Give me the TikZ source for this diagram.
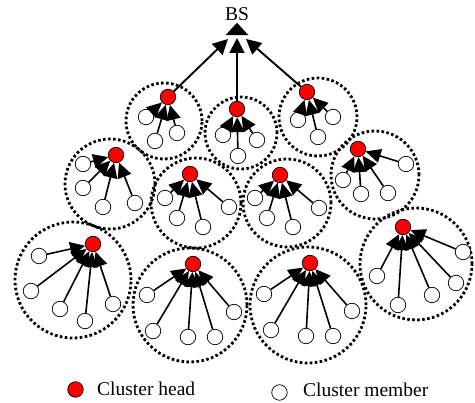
\documentclass[tikz,border=0pt]{standalone}
\usepackage{fontspec}
\setmainfont{Liberation Serif}
\usetikzlibrary{arrows.meta}
\begin{document}
\begin{tikzpicture}[x=1pt,y=-1pt,
  headnode/.style={circle,draw=black,line width=0.7pt,fill=red,minimum size=15.5pt,inner sep=0pt},
  membernode/.style={circle,draw=black,line width=0.7pt,fill=white,minimum size=15.5pt,inner sep=0pt},
  zone/.style={circle,draw=black,line width=2.8pt,dash pattern=on 2.6pt off 2.4pt,minimum size=#1,inner sep=0pt},
  feed/.style={line width=1.6pt,-{Triangle[length=15pt,width=14pt]}},
  tobs/.style={line width=1.9pt,-{Triangle[length=15pt,width=15pt]}},
  lbl/.style={font=\fontsize{19.5}{22}\selectfont,inner sep=0pt}]
\useasboundingbox (0,0) rectangle (475,403);

% cluster boundaries
\foreach \c/\x/\y/\d in {1/164/121/76, 2/241/133/72, 3/318/117/78,
                          4/110/184/90, 5/196/203/90, 6/287/203/88, 7/375/175/88,
                          8/73/280/116, 9/190/305/114, 10/308/305/116, 11/416/264/112}
  \node[zone=\d pt] (z\c) at (\x,\y) {};

% cluster heads
\foreach \c/\x/\y in {1/168/97, 2/237/109, 3/307/92,
                      4/116/155, 5/190/174, 6/280/175, 7/358/149,
                      8/93/244, 9/193/264, 10/310/263, 11/403/227}
  \node[headnode] (h\c) at (\x,\y) {};

% cluster members, each linked to its head
\foreach \c/\k/\x/\y in {
    1/a/146/117, 1/b/155/141, 1/c/177/133,
    2/a/223/135, 2/b/257/140, 2/c/238/156,
    3/a/298/120, 3/b/333/117, 3/c/318/137,
    4/a/83/164, 4/b/83/188, 4/c/103/207, 4/d/135/203,
    5/a/165/198, 5/b/177/218, 5/c/203/227, 5/d/229/207,
    6/a/255/198, 6/b/267/218, 6/c/293/227, 6/d/319/208,
    7/a/343/180, 7/b/361/194, 7/c/388/193, 7/d/406/164,
    8/a/39/256, 8/b/31/291, 8/c/60/309, 8/d/85/321, 8/e/113/304,
    9/a/147/295, 9/b/153/331, 9/c/188/337, 9/d/215/337, 9/e/234/312,
    10/a/264/294, 10/b/271/330, 10/c/306/336, 10/d/333/336, 10/e/352/311,
    11/a/377/276, 11/b/398/305, 11/c/432/295, 11/d/456/283, 11/e/463/252}
{
  \node[membernode] (m\c\k) at (\x,\y) {};
  \draw[feed] (m\c\k) -- (h\c);
}

% base station
\node[lbl] (bs) at (237,14) {BS};
\fill ([yshift=-2pt]bs.south) -- ++(11.5,12.5) -- ++(-23,0) -- cycle;
\coordinate (sinkl) at (228,39);
\coordinate (sinkc) at (237,38);
\coordinate (sinkr) at (246,39);
\draw[tobs] (h1) -- (sinkl);
\draw[tobs] (h2) -- (sinkc);
\draw[tobs] (h3) -- (sinkr);

% legend
\node[headnode] (keyh) at (75.5,389.5) {};
\node[lbl,anchor=base west] (keyht) at (97,396) {Cluster head};
\node[membernode] (keym) at (279.5,392.5) {};
\node[lbl,anchor=base west] (keymt) at (303,397) {Cluster member};
\end{tikzpicture}
\end{document}
